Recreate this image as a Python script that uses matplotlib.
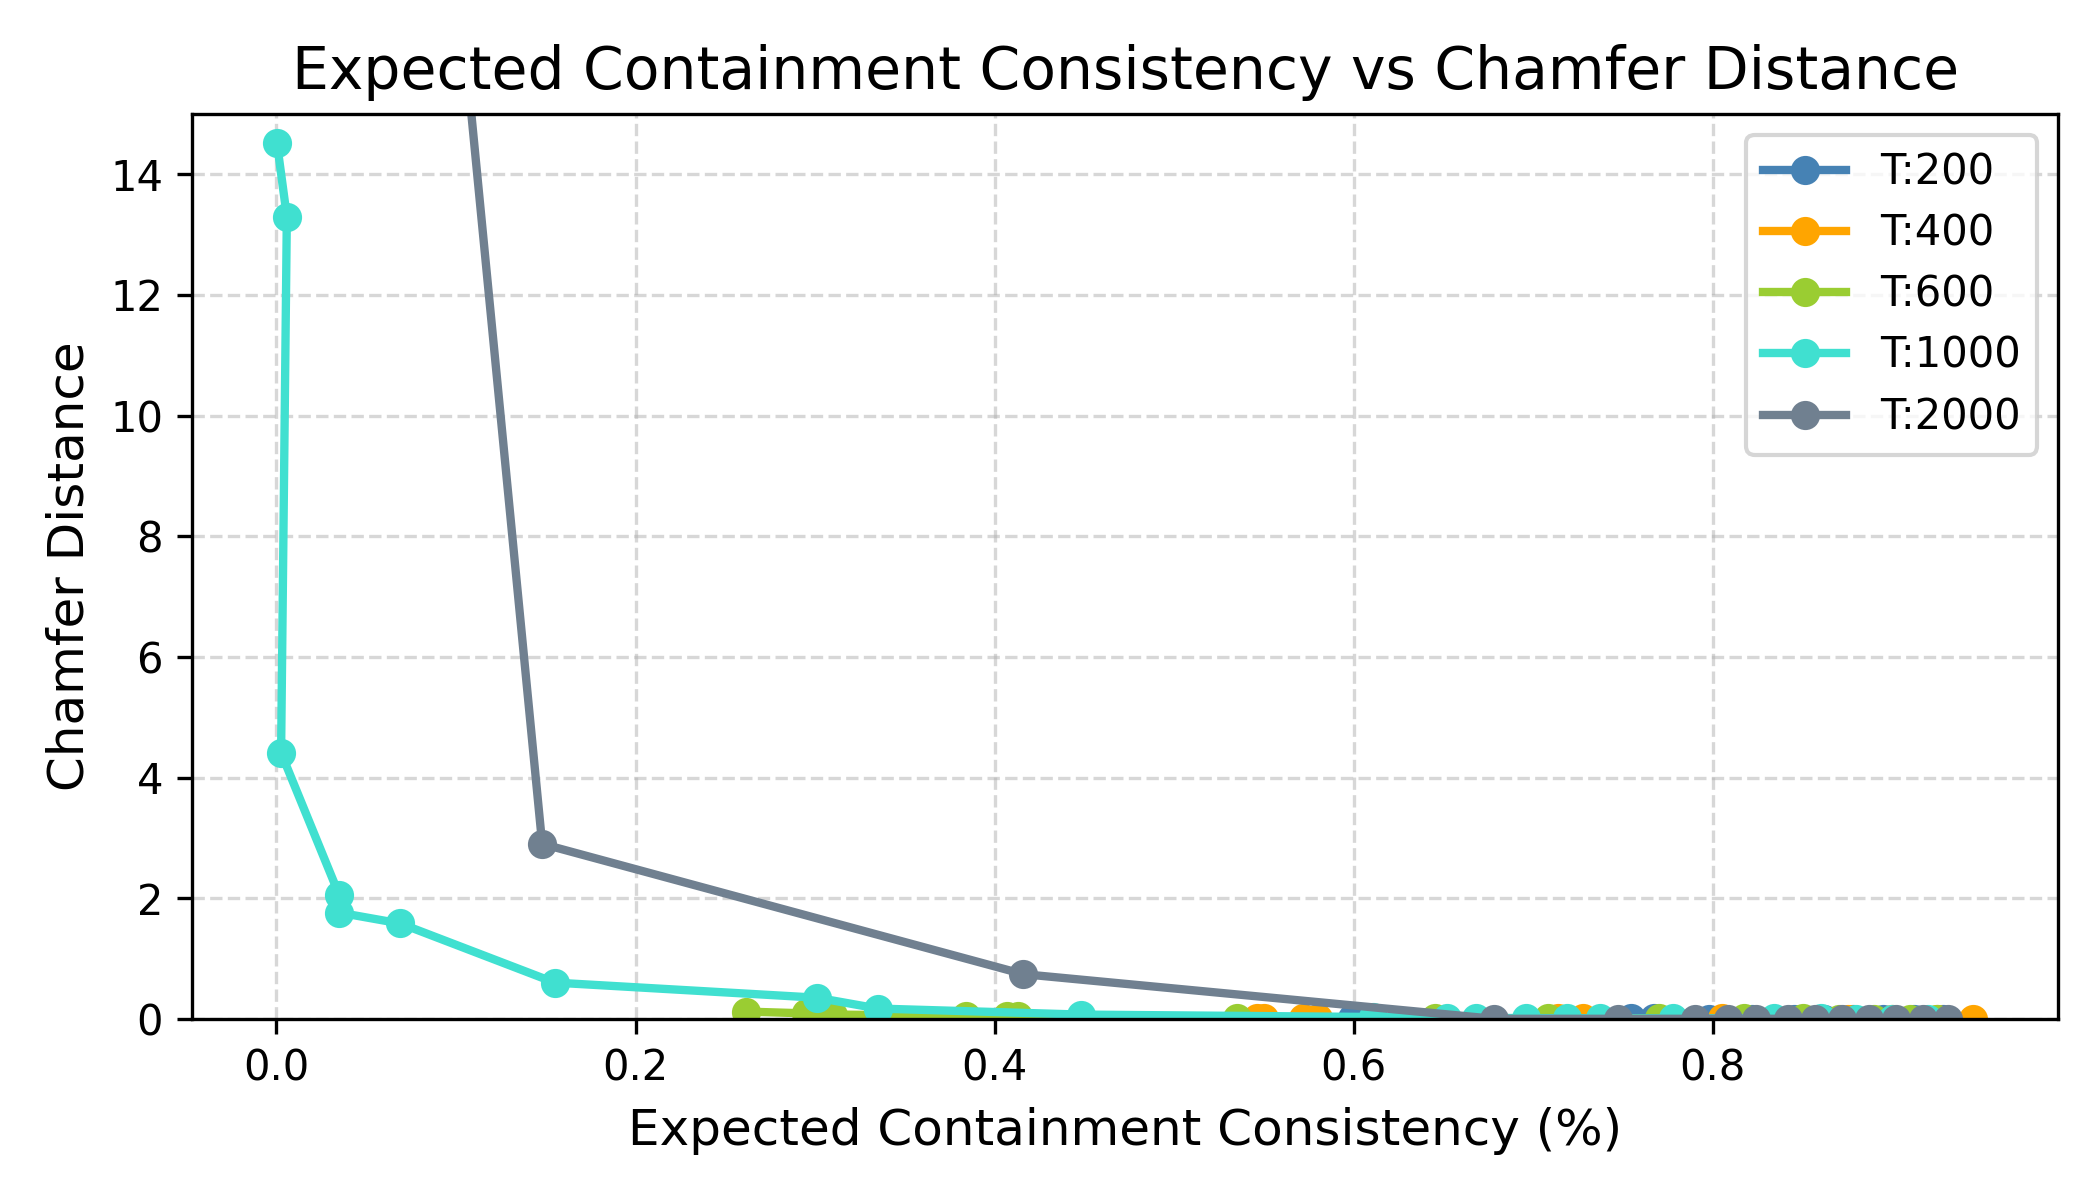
import matplotlib
matplotlib.use("Agg")
import matplotlib.pyplot as plt

labels = ["T:200", "T:400", "T:600", "T:1000", "T:2000"]
colors = ["steelblue", "orange", "yellowgreen", "turquoise", "slategray"]

x_t200 = [0.599, 0.7545, 0.767, 0.798, 0.822, 0.845, 0.862, 0.878, 0.895, 0.912, 0.928]
y_t200 = [0.01, 0.005, 0.005, 0.004, 0.004, 0.003, 0.003, 0.003, 0.002, 0.002, 0.002]

x_t400 = [0.546, 0.55, 0.572, 0.58, 0.7136, 0.7275, 0.805, 0.85, 0.875, 0.90, 0.925, 0.945]
y_t400 = [0.02, 0.02, 0.015, 0.015, 0.008, 0.008, 0.005, 0.004, 0.003, 0.003, 0.002, 0.002]

x_t600 = [0.2615, 0.295, 0.31, 0.384, 0.407, 0.413, 0.535, 0.645, 0.708, 0.770, 0.8175, 0.85, 0.87, 0.89, 0.91, 0.925]
y_t600 = [0.12, 0.09, 0.07, 0.05, 0.04, 0.04, 0.02, 0.012, 0.01, 0.008, 0.006, 0.005, 0.004, 0.003, 0.003, 0.002]

x_t1000 = [0.0003, 0.0058, 0.0026, 0.035, 0.035, 0.069, 0.155, 0.301, 0.335, 0.448,
           0.611, 0.652, 0.668, 0.696, 0.719, 0.737, 0.778, 0.834, 0.86, 0.88, 0.90, 0.92]
y_t1000 = [14.52, 13.3, 4.41, 2.05, 1.76, 1.58, 0.60, 0.35, 0.17, 0.07,
           0.03, 0.02, 0.015, 0.012, 0.01, 0.01, 0.008, 0.006, 0.005, 0.004, 0.003, 0.003]

x_t2000 = [0.06, 0.148, 0.416, 0.678, 0.747, 0.790, 0.8085, 0.824, 0.842, 0.857, 0.872, 0.887, 0.902, 0.917, 0.931]
y_t2000 = [29.9, 2.90, 0.74, 0.0, 0.0, 0.0, 0.0, 0.0, 0.0, 0.0, 0.0, 0.0, 0.0, 0.0, 0.0]

xs = [x_t200, x_t400, x_t600, x_t1000, x_t2000]
ys = [y_t200, y_t400, y_t600, y_t1000, y_t2000]

fig, ax = plt.subplots(figsize=(7, 4), dpi=300)
fig.subplots_adjust(left=0.0915, right=0.980, top=0.905, bottom=0.151)

for x, y, lab, c in zip(xs, ys, labels, colors):
    ax.plot(x, y, marker="o", markersize=6, linewidth=2, color=c, label=lab)

ax.set_ylim(0, 15)
ax.set_title("Expected Containment Consistency vs Chamfer Distance", fontsize=14)
ax.set_xlabel("Expected Containment Consistency (%)", fontsize=12)
ax.set_ylabel("Chamfer Distance", fontsize=12)
ax.grid(True, linestyle="--", alpha=0.5)
ax.legend(loc="upper right", labelspacing=0.46)

fig.savefig("out.png", dpi=300)
